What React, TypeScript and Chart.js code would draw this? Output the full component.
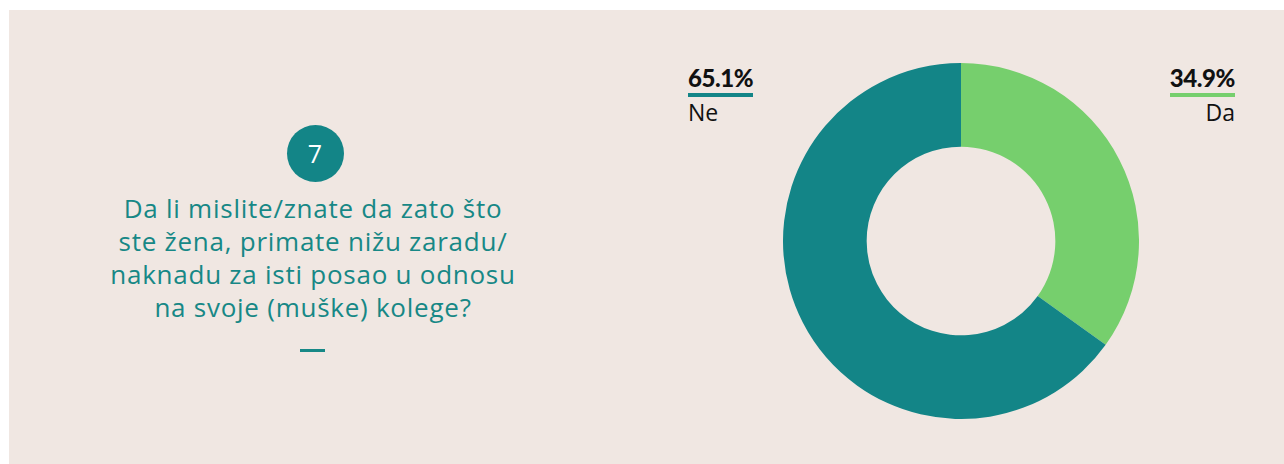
import React, { useEffect, useRef } from "react";
import { Chart, registerables } from "chart.js";

Chart.register(...registerables);

const categories: string[] = ["Da", "Ne"];
const values: number[] = [34.9, 65.1];
const sliceColors: string[] = ["#76CF6D", "#138587"];
const questionNumber = "7";
const questionLines: string[] = [
  "Da li mislite/znate da zato što",
  "ste žena, primate nižu zaradu/",
  "naknadu za isti posao u odnosu",
  "na svoje (muške) kolege?",
];

const BG = "#F0E7E2";
const TEAL_TEXT = "#178886";
const FONT = "'Open Sans', Lato, sans-serif";
const BOLD_FONT = "Lato, 'Open Sans', sans-serif";

export default function App() {
  const canvasRef = useRef<HTMLCanvasElement | null>(null);

  useEffect(() => {
    if (!canvasRef.current) return;
    const chart = new Chart(canvasRef.current, {
      type: "doughnut",
      data: {
        labels: categories,
        datasets: [
          {
            data: values,
            backgroundColor: sliceColors,
            borderWidth: 0,
          },
        ],
      },
      options: {
        responsive: false,
        animation: false,
        cutout: "53%",
        plugins: {
          legend: { display: false },
          tooltip: { enabled: false },
        },
        layout: { padding: 0 },
      },
    });
    return () => chart.destroy();
  }, []);

  const pctLabel = (i: number) => `${values[i]}%`;

  const pctStyle = (color: string): React.CSSProperties => ({
    display: "inline-block",
    fontFamily: BOLD_FONT,
    fontWeight: 900,
    fontSize: 24,
    lineHeight: "22px",
    letterSpacing: -0.4,
    paddingBottom: 4,
    borderBottom: `4px solid ${color}`,
  });

  const nameStyle: React.CSSProperties = {
    fontSize: 23,
    lineHeight: "23px",
    marginTop: 4,
  };

  return (
    <div
      style={{
        position: "fixed",
        left: 9,
        top: 10,
        right: 0,
        bottom: 0,
        background: BG,
        fontFamily: FONT,
        overflow: "hidden",
      }}
    >
      {/* number circle */}
      <div
        style={{
          position: "absolute",
          left: 277.5,
          top: 114.5,
          width: 57,
          height: 57,
          borderRadius: "50%",
          background: sliceColors[1],
          color: "#ffffff",
          fontSize: 25,
          lineHeight: "57px",
          textAlign: "center",
        }}
      >
        {questionNumber}
      </div>

      {/* question */}
      <div
        style={{
          position: "absolute",
          left: 54,
          top: 182,
          width: 500,
          textAlign: "center",
          color: TEAL_TEXT,
          fontSize: 26,
          letterSpacing: 0.75,
          lineHeight: "33px",
          whiteSpace: "nowrap",
        }}
      >
        {questionLines.map((l, i) => (
          <div key={i}>{l}</div>
        ))}
      </div>

      {/* dash */}
      <div
        style={{
          position: "absolute",
          left: 291,
          top: 339,
          width: 25,
          height: 2.5,
          background: TEAL_TEXT,
        }}
      />

      {/* chart */}
      <canvas
        ref={canvasRef}
        width={356}
        height={356}
        style={{ position: "absolute", left: 773.5, top: 53, width: 356, height: 356 }}
      />

      {/* Ne label (left) */}
      <div style={{ position: "absolute", left: 679, top: 57, color: "#111" }}>
        <div style={pctStyle(sliceColors[1])}>{pctLabel(1)}</div>
        <div style={nameStyle}>{categories[1]}</div>
      </div>

      {/* Da label (right) */}
      <div
        style={{
          position: "absolute",
          right: 49,
          top: 57,
          color: "#111",
          textAlign: "right",
        }}
      >
        <div style={pctStyle(sliceColors[0])}>{pctLabel(0)}</div>
        <div style={nameStyle}>{categories[0]}</div>
      </div>
    </div>
  );
}
